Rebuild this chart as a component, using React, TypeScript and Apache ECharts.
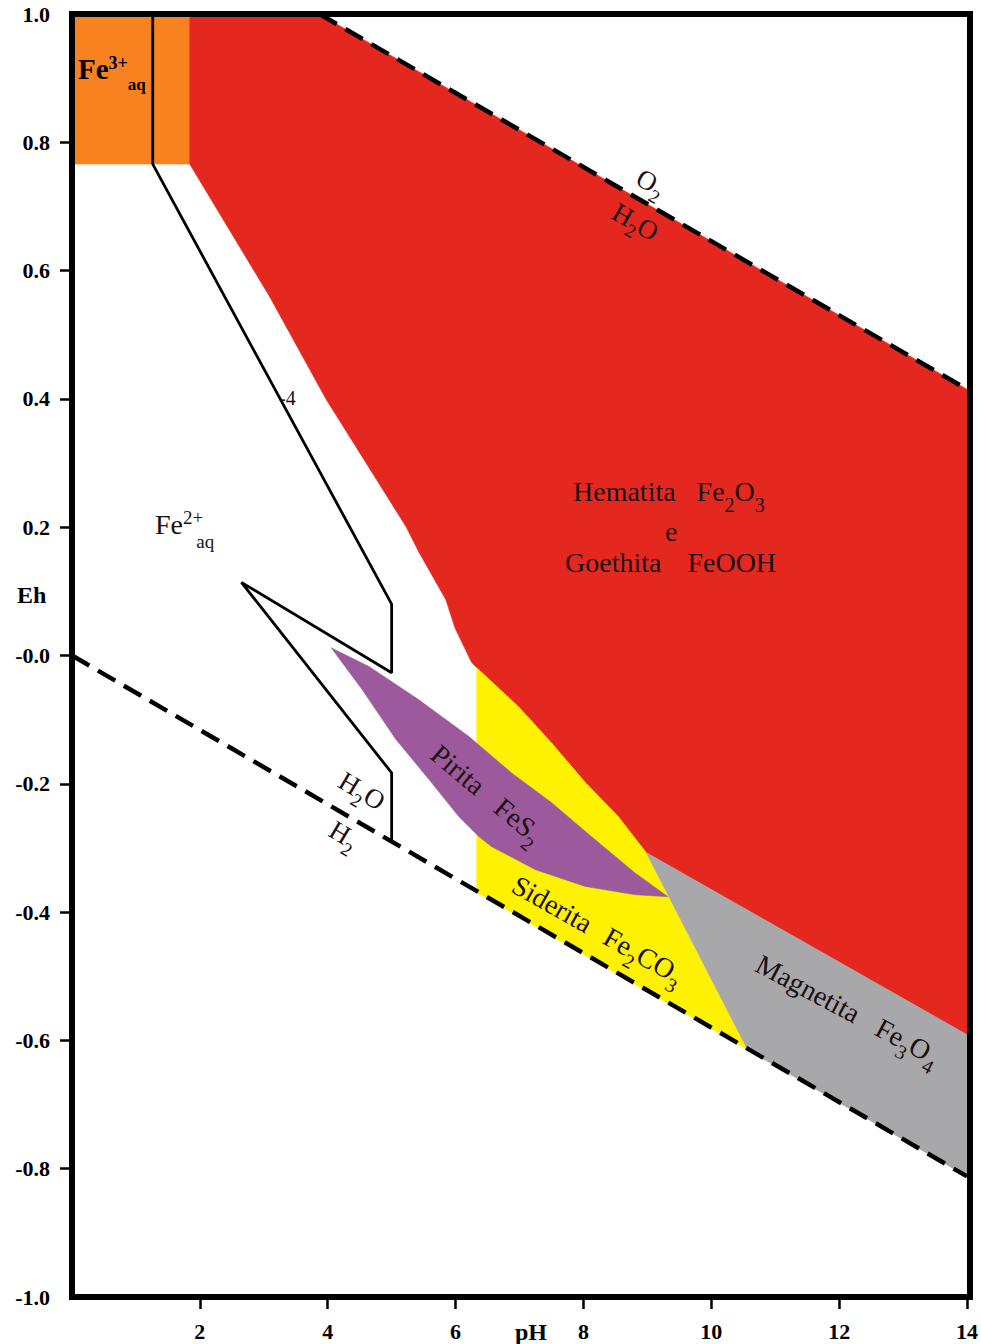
import React, { useEffect, useRef } from 'react';
import * as echarts from 'echarts';

const FONT = "'Liberation Serif', 'Times New Roman', Times, serif";

// Axis ticks
const phTickValues = [2, 4, 6, 8, 10, 12, 14];
const phTickLabels = ['2', '4', '6', '8', '10', '12', '14'];
const ehTickValues = [-1.0, -0.8, -0.6, -0.4, -0.2, 0, 0.2, 0.4, 0.6, 0.8, 1.0];
const ehTickLabels = ['-1.0', '-0.8', '-0.6', '-0.4', '-0.2', '-0.0', '0.2', '0.4', '0.6', '0.8', '1.0'];
const ehTickMarks = [-0.8, -0.6, -0.4, -0.2, 0, 0.2, 0.4, 0.6, 0.8];

// Stability fields [pH, Eh]
const fe3Region: number[][] = [[0, 1.0], [1.84, 1.0], [1.84, 0.766], [0, 0.766]];
const hematiteRegion: number[][] = [
  [1.84, 1.0], [3.87, 1.0], [14, 0.415], [14, -0.591], [8.98, -0.307], [8.544, -0.251],
  [8.029, -0.198], [7.499, -0.136], [6.985, -0.08], [6.33, -0.019], [6.25, -0.011],
  [5.99, 0.043], [5.847, 0.087], [5.426, 0.161], [5.223, 0.201], [3.976, 0.399],
  [3.087, 0.56], [1.84, 0.766],
];
const sideriteRegion: number[][] = [
  [6.33, -0.019], [6.985, -0.08], [7.499, -0.136], [8.029, -0.198], [8.544, -0.251],
  [8.98, -0.307], [10.57, -0.615], [6.33, -0.369],
];
const magnetiteRegion: number[][] = [[8.98, -0.307], [14, -0.591], [14, -0.812], [10.57, -0.615]];
const pyriteRegion: number[][] = [
  [4.054, 0.012], [4.646, -0.017], [5.426, -0.069], [6.205, -0.126], [6.876, -0.183],
  [7.499, -0.229], [8.123, -0.282], [8.809, -0.339], [9.323, -0.376], [8.809, -0.373],
  [8.029, -0.36], [7.25, -0.334], [6.564, -0.298], [6.361, -0.282], [6.049, -0.251],
  [5.581, -0.193], [5.067, -0.131], [4.537, -0.053],
];
// Fe2+ (10^-4) boundary
const fe2Boundary: number[][] = [[1.263, 1.0], [1.263, 0.766], [5.0, 0.08], [5.0, -0.027], [2.65, 0.114], [5.0, -0.183], [5.0, -0.29]];
// Water stability limits
const o2Line: number[][] = [[3.87, 1.0], [14, 0.415]];
const h2Line: number[][] = [[0, 0], [14, -0.812]];

const COLORS = {
  fe3: '#F7821F',
  hematite: '#E4281F',
  siderite: '#FFF200',
  magnetite: '#A8A7A9',
  pyrite: '#9C5A9C',
};

type Part = { t: string; size: number; dy?: number; gap?: number; bold?: boolean };

function composeLabel(parts: Part[], x: number, y: number, rotDeg: number, anchor: 'left' | 'center', color: string) {
  const canvas = document.createElement('canvas');
  const ctx = canvas.getContext('2d') as CanvasRenderingContext2D;
  const widths = parts.map((p) => {
    ctx.font = `${p.bold ? 'bold ' : ''}${p.size}px ${FONT}`;
    return ctx.measureText(p.t).width;
  });
  const total = parts.reduce((s, p, i) => s + (p.gap || 0) + widths[i], 0);
  let cursor = anchor === 'center' ? -total / 2 : 0;
  const children = parts.map((p, i) => {
    cursor += p.gap || 0;
    const el = {
      type: 'text',
      x: cursor,
      y: p.dy || 0,
      z: 60,
      silent: true,
      style: {
        text: p.t,
        fontSize: p.size,
        fontFamily: FONT,
        fontWeight: p.bold ? 'bold' : 'normal',
        fill: color,
        textAlign: 'left',
        textVerticalAlign: 'middle',
        align: 'left',
        verticalAlign: 'middle',
      },
    };
    cursor += widths[i];
    return el;
  });
  return { type: 'group', x, y, rotation: (-rotDeg * Math.PI) / 180, z: 60, silent: true, children };
}

function polygonSeries(name: string, points: number[][], color: string) {
  return {
    name,
    type: 'custom',
    data: points,
    silent: true,
    z: 2,
    renderItem: (params: any, api: any) => {
      if (params.dataIndex !== 0) return null;
      const pts = points.map((p) => api.coord(p));
      return { type: 'polygon', shape: { points: pts }, style: { fill: color, stroke: color, lineWidth: 0.5 } };
    },
  };
}

export default function App() {
  const ref = useRef<HTMLDivElement>(null);
  useEffect(() => {
    if (!ref.current) return;
    const chart = echarts.init(ref.current, undefined, { renderer: 'svg' });
    const dark = '#1c1010';
    const option: any = {
      animation: false,
      backgroundColor: '#ffffff',
      grid: { left: 72, right: 11, top: 14, bottom: 47, containLabel: false },
      xAxis: {
        type: 'value',
        min: 0,
        max: 14,
        interval: 2,
        axisLine: { show: false, onZero: false },
        axisTick: { show: true, length: 12, lineStyle: { color: '#000', width: 2.5 }, customValues: phTickValues },
        axisLabel: {
          show: true,
          margin: 23,
          fontSize: 22,
          fontWeight: 'bold',
          fontFamily: FONT,
          color: '#000',
          customValues: phTickValues,
          formatter: (v: number) => {
            const i = phTickValues.findIndex((t) => Math.abs(t - v) < 1e-6);
            return i >= 0 ? phTickLabels[i] : '';
          },
        },
        splitLine: { show: false },
      },
      yAxis: {
        type: 'value',
        min: -1,
        max: 1,
        interval: 0.2,
        axisLine: { show: false, onZero: false },
        axisTick: { show: true, length: 12, lineStyle: { color: '#000', width: 2.5 }, customValues: ehTickMarks },
        axisLabel: {
          show: true,
          margin: 22,
          fontSize: 22,
          fontWeight: 'bold',
          fontFamily: FONT,
          color: '#000',
          customValues: ehTickValues,
          formatter: (v: number) => {
            const i = ehTickValues.findIndex((t) => Math.abs(t - v) < 1e-6);
            return i >= 0 ? ehTickLabels[i] : '';
          },
        },
        splitLine: { show: false },
      },
      series: [
        polygonSeries('Fe3+', fe3Region, COLORS.fe3),
        polygonSeries('Hematita', hematiteRegion, COLORS.hematite),
        polygonSeries('Siderita', sideriteRegion, COLORS.siderite),
        polygonSeries('Magnetita', magnetiteRegion, COLORS.magnetite),
        polygonSeries('Pirita', pyriteRegion, COLORS.pyrite),
        {
          name: 'O2/H2O',
          type: 'line',
          data: o2Line,
          symbol: 'none',
          silent: true,
          z: 5,
          lineStyle: { color: '#000', width: 4.5, type: [20, 10] },
        },
        {
          name: 'H2O/H2',
          type: 'line',
          data: h2Line,
          symbol: 'none',
          silent: true,
          z: 5,
          lineStyle: { color: '#000', width: 4.5, type: [20, 10] },
        },
        {
          name: 'Fe2+ boundary',
          type: 'line',
          data: fe2Boundary,
          symbol: 'none',
          silent: true,
          z: 6,
          lineStyle: { color: '#000', width: 2.8 },
        },
      ],
      graphic: [
        {
          type: 'rect',
          z: 100,
          silent: true,
          shape: { x: 72, y: 14, width: 898, height: 1283 },
          style: { fill: 'none', stroke: '#000', lineWidth: 6 },
        },
        composeLabel([{ t: 'Fe', size: 29, bold: true }, { t: '3+', size: 18, dy: -6, bold: true }, { t: 'aq', size: 17, dy: 16, bold: true }], 78, 68.5, 0, 'left', '#000'),
        composeLabel([{ t: 'Fe', size: 28 }, { t: '2+', size: 19, dy: -7 }, { t: 'aq', size: 19, dy: 17, gap: -7 }], 155, 524, 0, 'left', dark),
        composeLabel([{ t: '-4', size: 20 }], 279, 397.5, 0, 'left', dark),
        composeLabel([{ t: 'O', size: 27 }, { t: '2', size: 19, dy: 10 }], 651, 183, 30, 'center', dark),
        composeLabel([{ t: 'H', size: 27 }, { t: '2', size: 19, dy: 10 }, { t: 'O', size: 27 }], 635.5, 222, 30, 'center', dark),
        composeLabel([{ t: 'Hematita', size: 28 }, { t: 'Fe', size: 28, gap: 21 }, { t: '2', size: 20, dy: 14 }, { t: 'O', size: 28 }, { t: '3', size: 20, dy: 14 }], 573, 491, 0, 'left', dark),
        composeLabel([{ t: 'e', size: 28 }], 665, 531, 0, 'left', dark),
        composeLabel([{ t: 'Goethita', size: 28 }, { t: 'FeOOH', size: 28, gap: 26 }], 565, 562.5, 0, 'left', dark),
        composeLabel([{ t: 'H', size: 27 }, { t: '2', size: 19, dy: 11 }, { t: 'O', size: 27 }], 362, 791, 31, 'center', dark),
        composeLabel([{ t: 'H', size: 27 }, { t: '2', size: 19, dy: 11 }], 344, 835, 31, 'center', dark),
        composeLabel([{ t: 'Pirita', size: 28 }, { t: 'FeS', size: 28, gap: 22 }, { t: '2', size: 20, dy: 12 }], 487, 794, 40, 'center', dark),
        composeLabel([{ t: 'Siderita', size: 28 }, { t: 'Fe', size: 28, gap: 18 }, { t: '2', size: 20, dy: 12 }, { t: 'CO', size: 28 }, { t: '3', size: 20, dy: 12 }], 598, 930, 29.4, 'center', dark),
        composeLabel([{ t: 'Magnetita', size: 28 }, { t: 'Fe', size: 28, gap: 22 }, { t: '3', size: 20, dy: 12 }, { t: 'O', size: 28 }, { t: '4', size: 20, dy: 12 }], 848, 1010, 28, 'center', dark),
        composeLabel([{ t: 'Eh', size: 24, bold: true }], 17, 595, 0, 'left', '#000'),
        composeLabel([{ t: 'pH', size: 24, bold: true }], 531, 1332, 0, 'center', '#000'),
      ],
    };
    chart.setOption(option);
    return () => {
      chart.dispose();
    };
  }, []);
  return <div ref={ref} style={{ position: 'absolute', left: 0, top: 0, width: 981, height: 1344 }} />;
}
